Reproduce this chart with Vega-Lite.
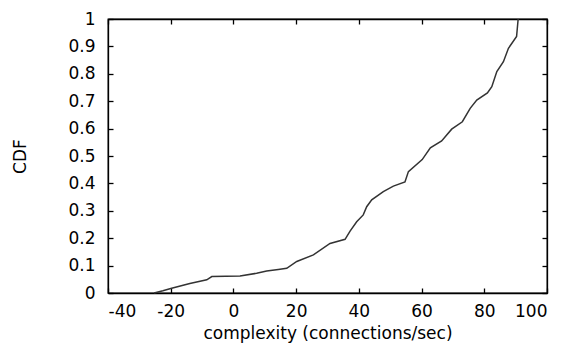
{
  "$schema": "https://vega.github.io/schema/vega-lite/v6.json",
  "width": 439,
  "height": 274,
  "autosize": {"type": "none"},
  "padding": {"left": 108, "top": 19, "right": 19, "bottom": 56},
  "background": "white",
  "config": {
    "view": {"stroke": "black", "strokeWidth": 1.3},
    "axis": {
      "grid": false,
      "domain": true,
      "domainColor": "black",
      "domainWidth": 1.3,
      "ticks": true,
      "tickColor": "black",
      "tickSize": 5,
      "tickWidth": 1.3,
      "labelFont": "DejaVu Sans",
      "labelFontSize": 17,
      "labelColor": "#000",
      "titleFont": "DejaVu Sans",
      "titleFontSize": 17,
      "titleFontWeight": "normal",
      "titleColor": "#000"
    }
  },
  "data": {
    "values": [
      {"x": -25.3, "cdf": 0.0},
      {"x": -22.5, "cdf": 0.008},
      {"x": -19.7, "cdf": 0.017},
      {"x": -13.9, "cdf": 0.035},
      {"x": -8.5, "cdf": 0.048},
      {"x": -6.9, "cdf": 0.06},
      {"x": 2.1, "cdf": 0.062},
      {"x": 7.4, "cdf": 0.072},
      {"x": 10.6, "cdf": 0.08},
      {"x": 14.3, "cdf": 0.086},
      {"x": 17.0, "cdf": 0.09},
      {"x": 20.2, "cdf": 0.115},
      {"x": 25.5, "cdf": 0.139},
      {"x": 30.8, "cdf": 0.181},
      {"x": 35.6, "cdf": 0.196},
      {"x": 37.2, "cdf": 0.226},
      {"x": 39.3, "cdf": 0.26},
      {"x": 41.4, "cdf": 0.285},
      {"x": 42.5, "cdf": 0.315},
      {"x": 44.1, "cdf": 0.34},
      {"x": 47.8, "cdf": 0.37},
      {"x": 51.0, "cdf": 0.39},
      {"x": 54.7, "cdf": 0.405},
      {"x": 55.8, "cdf": 0.443},
      {"x": 60.2, "cdf": 0.487},
      {"x": 62.8, "cdf": 0.53},
      {"x": 66.4, "cdf": 0.555},
      {"x": 69.6, "cdf": 0.598},
      {"x": 73.0, "cdf": 0.625},
      {"x": 75.5, "cdf": 0.674},
      {"x": 77.6, "cdf": 0.704},
      {"x": 81.0, "cdf": 0.73},
      {"x": 82.4, "cdf": 0.753},
      {"x": 84.0, "cdf": 0.808},
      {"x": 86.1, "cdf": 0.844},
      {"x": 87.7, "cdf": 0.893},
      {"x": 90.3, "cdf": 0.936},
      {"x": 90.8, "cdf": 1.0}
    ]
  },
  "layer": [
    {
      "mark": {"type": "line", "color": "#333", "strokeWidth": 1.5},
      "encoding": {
        "x": {
          "field": "x",
          "type": "quantitative",
          "scale": {"domain": [-40, 100], "nice": false},
          "axis": {"orient": "bottom", "values": [-40, -20, 0, 20, 40, 60, 80, 100], "tickSize": -5, "labelPadding": 15, "titlePadding": 6, "title": "complexity (connections/sec)", "labelExpr": "datum.value + ''"}
        },
        "y": {
          "field": "cdf",
          "type": "quantitative",
          "scale": {"domain": [0, 1], "nice": false},
          "axis": {"orient": "left", "values": [0, 0.1, 0.2, 0.3, 0.4, 0.5, 0.6, 0.7, 0.8, 0.9, 1], "tickSize": -5, "labelPadding": 18, "titlePadding": 38, "title": "CDF", "labelExpr": "datum.value + ''"}
        },
        "order": {"field": "x", "type": "quantitative"}
      }
    },
    {
      "mark": {"type": "line", "opacity": 0},
      "encoding": {
        "x": {
          "field": "x",
          "type": "quantitative",
          "axis": {"orient": "top", "labels": false, "title": null, "tickSize": -5, "values": [-40, -20, 0, 20, 40, 60, 80, 100]}
        },
        "y": {
          "field": "cdf",
          "type": "quantitative",
          "axis": {"orient": "right", "labels": false, "title": null, "tickSize": -5, "values": [0, 0.1, 0.2, 0.3, 0.4, 0.5, 0.6, 0.7, 0.8, 0.9, 1]}
        }
      }
    }
  ]
}
